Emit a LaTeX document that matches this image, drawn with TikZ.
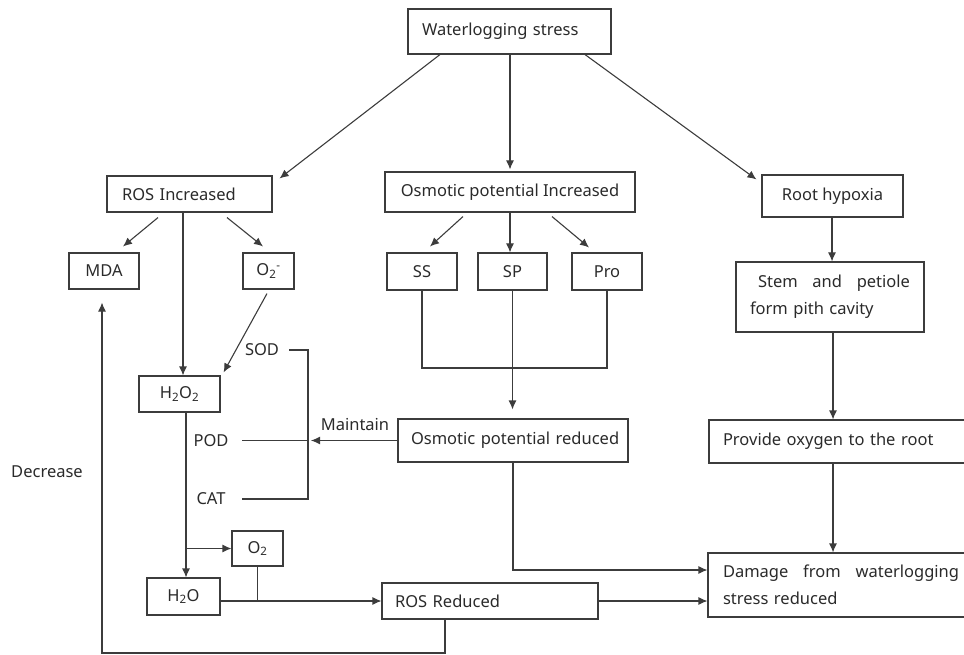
\documentclass[tikz,border=0pt]{standalone}
\usepackage{fontspec}
\setmainfont{Noto Sans}
\usetikzlibrary{arrows.meta,calc}
\definecolor{lncol}{HTML}{3C3C3C}
\definecolor{txcol}{HTML}{2A2A2A}
\begin{document}
\begin{tikzpicture}[x=1pt,y=-1pt,
  every node/.style={font=\fontsize{16.5}{27}\selectfont, text=txcol},
  box/.style={draw=lncol, line width=1.1pt, inner sep=0pt, align=center},
  lbox/.style={draw=lncol, line width=1.1pt, inner ysep=0pt, align=left},
  arr/.style={draw=lncol, line width=1.1pt, -{Latex[length=9pt,width=8pt]}},
  wire/.style={draw=lncol, line width=1.1pt},
  lbl/.style={inner sep=0pt}]
\useasboundingbox (0,0) rectangle (964,655);

% boxes
\node[lbox, text width=175pt, inner xsep=14pt, minimum height=45pt] (ws) at (509.5,31.5) {Waterlogging stress};
\node[lbox, text width=135pt, inner xsep=15pt, minimum height=36pt] (rosi) at (189.5,194) {ROS Increased};
\node[box, minimum width=70pt, minimum height=36pt] (mda) at (104,271) {MDA};
\node[box, minimum width=51pt, minimum height=36pt] (o2m) at (268.5,271) {O\textsubscript{2}\textsuperscript{-}};
\node[box, minimum width=81pt, minimum height=36pt] (h2o2) at (179.5,394) {H\textsubscript{2}O\textsubscript{2}};
\node[box, minimum width=51pt, minimum height=35pt] (o2) at (257.5,548.5) {O\textsubscript{2}};
\node[box, minimum width=73pt, minimum height=37pt] (h2o) at (183.5,596.5) {H\textsubscript{2}O};
\node[lbox, text width=190pt, inner xsep=13pt, minimum height=36pt] (rosr) at (490,601) {ROS Reduced};

\node[box, minimum width=250pt, minimum height=40pt] (osi) at (510,192) {Osmotic potential Increased};
\node[box, minimum width=70pt, minimum height=37pt] (ss) at (422,271.5) {SS};
\node[box, minimum width=69pt, minimum height=37pt] (sp) at (512.5,271.5) {SP};
\node[box, minimum width=70pt, minimum height=37pt] (pro) at (607,271.5) {Pro};
\node[lbox, text width=214pt, inner xsep=8pt, minimum height=43pt] (osr) at (513,440.5) {\mbox{\hspace*{5pt}Osmotic potential reduced}};

\node[box, minimum width=141pt, minimum height=42pt] (rh) at (832.5,196) {Root hypoxia};
\node[lbox, text width=160pt, inner xsep=14pt, minimum height=70pt] (stem) at (830,297) {\hspace*{8pt}Stem\hfill and\hfill petiole\\form pith cavity};
\node[lbox, text width=238pt, inner xsep=14pt, minimum height=43pt] (prov) at (842,441.5) {Provide oxygen to the root};
\node[lbox, text width=236pt, inner xsep=15pt, minimum height=64pt] (dmg) at (841,585) {Damage\hfill from\hfill waterlogging\\stress reduced};

% labels
\node[lbl] (sod) at (262,350) {SOD};
\node[lbl] (pod) at (211,440.5) {POD};
\node[lbl] (cat) at (211,499) {CAT};
\node[lbl] (maint) at (355,425) {Maintain};
\node[lbl] (decr) at (47,472) {Decrease};

\coordinate (j) at (308,440.5);
\coordinate (hb) at (186,548.5);
\coordinate (mrg) at (513,368);
\coordinate (bl) at (102,653);

% top arrows
\draw[arr] ($(ws.south)+(-69.5,0)$) -- ($(rosi.north east)+(7,3)$);
\draw[arr] ($(ws.south)+(0.5,0)$) -- ($(osi.north)+(0,-2)$);
\draw[arr] ($(ws.south)+(75.5,0)$) -- ($(rh.north west)+(-5,5)$);

% ROS branch
\draw[arr] ($(rosi.south)+(-31.5,5)$) -- ($(mda.north)+(19,-6)$);
\draw[arr] ($(rosi.south)+(37.5,5)$) -- ($(o2m.north)+(-5.5,-6)$);
\draw[arr] ($(rosi.south)+(-6.5,0)$) -- ($(h2o2.north)+(3.5,0)$);
\draw[arr] ($(o2m.south)+(-1.5,4)$) -- ($(h2o2.north east)+(3,-3)$);

\draw[wire] ($(sod)+(27,0)$) -| (j) |- ($(cat)+(31,0)$);
\draw[wire] ($(pod)+(31,0)$) -- (j);
\draw[arr] (osr.west) -- ($(j)+(3,0)$);

\draw[arr] ($(h2o2.south)+(6.5,0)$) -- ($(h2o.north)+(2.5,0)$);
\draw[arr] (hb) -- (o2.west);
\draw[arr] (h2o.east |- rosr.west) -- (rosr.west);
\draw[wire] (o2.south) -- (o2.south |- rosr.west);
\draw[arr] ($(rosr.south)+(-45,0)$) |- (bl) -- ($(mda.south)+(-2,13)$);

% osmotic branch
\draw[arr] ($(osi.south)+(-47,4)$) -- ($(ss.north)+(8,-6)$);
\draw[arr] ($(osi.south)+(0,0)$) -- ($(sp.north)+(-2.5,0)$);
\draw[arr] ($(osi.south)+(42,4)$) -- ($(pro.north)+(-18,-5)$);
\draw[wire] (ss.south) |- (mrg) -| (pro.south);
\draw[arr] (sp.south) -- ($(sp.south |- osr.north)+(0,-9)$);
\draw[arr] (osr.south) |- ($(dmg.west)+(0,-15)$);
\draw[arr] (rosr.east) -- (rosr.east -| dmg.west);

% hypoxia branch
\draw[arr] ($(rh.south)+(-0.5,0)$) -- ($(stem.north)+(2,0)$);
\draw[arr] ($(stem.south)+(3,0)$) -- ($(prov.north)+(-9,0)$);
\draw[arr] ($(prov.south)+(-9,0)$) -- ($(dmg.north)+(-8,0)$);
\end{tikzpicture}
\end{document}
